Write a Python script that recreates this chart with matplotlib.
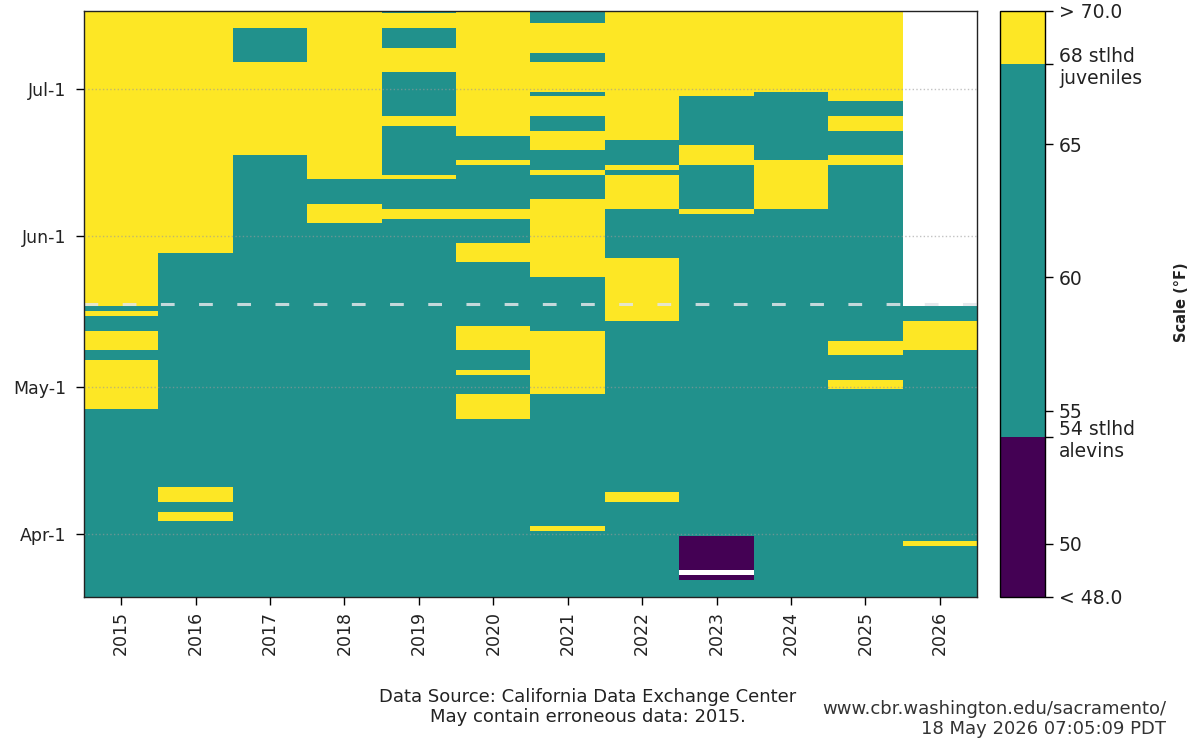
import matplotlib
matplotlib.use('Agg')
import numpy as np
import pandas as pd
import matplotlib.pyplot as plt
from matplotlib.colors import ListedColormap, BoundaryNorm
from matplotlib.cm import ScalarMappable

# season window shown for every year (month-day, plotted by day of year)
years = list(range(2015, 2027))
first_day, last_day = '03-19', '07-17'
today = '05-18'

# daily mean water temperature above 68°F (inclusive month-day ranges)
warm_runs = {
    2015: [('04-27', '05-06'), ('05-09', '05-12'), ('05-16', '05-16'), ('05-18', '07-17')],
    2016: [('04-04', '04-05'), ('04-08', '04-10'), ('05-29', '07-17')],
    2017: [('06-18', '07-06'), ('07-14', '07-17')],
    2018: [('06-04', '06-07'), ('06-13', '07-17')],
    2019: [('06-05', '06-06'), ('06-13', '06-13'), ('06-24', '06-25'),
           ('07-05', '07-09'), ('07-14', '07-16')],
    2020: [('04-25', '04-29'), ('05-04', '05-04'), ('05-09', '05-13'), ('05-27', '05-30'),
           ('06-05', '06-06'), ('06-16', '06-16'), ('06-22', '07-17')],
    2021: [('04-02', '04-02'), ('04-30', '05-12'), ('05-24', '06-08'), ('06-14', '06-14'),
           ('06-19', '06-22'), ('06-26', '06-29'), ('07-01', '07-06'), ('07-09', '07-14')],
    2022: [('04-08', '04-09'), ('05-15', '05-27'), ('06-07', '06-13'), ('06-15', '06-15'),
           ('06-21', '07-17')],
    2023: [('06-06', '06-06'), ('06-16', '06-19'), ('06-30', '07-17')],
    2024: [('06-07', '06-16'), ('07-01', '07-17')],
    2025: [('05-01', '05-02'), ('05-08', '05-10'), ('06-16', '06-17'), ('06-23', '06-25'),
           ('06-29', '07-17')],
    2026: [('03-30', '03-30'), ('05-09', '05-14')],
}
# below 54°F
cold_runs = {
    2023: [('03-23', '03-23'), ('03-25', '03-31')],
}
missing_days = {2023: ['03-24']}
data_end = {2026: '05-17'}

scale_bounds = [48, 54, 68, 70]
scale_ticks = [48, 50, 54, 55, 60, 65, 68, 70]
scale_labels = ['< 48.0', '50', '54 stlhd\nalevins', '55', '60', '65',
                '68 stlhd\njuveniles', '> 70.0']
month_ticks = ['04-01', '05-01', '06-01', '07-01']
month_labels = ['Apr-1', 'May-1', 'Jun-1', 'Jul-1']

colors = ['#440154', '#21918c', '#fde725']


def doy(md):
    return pd.Timestamp(f'2015-{md}').dayofyear


days = np.arange(doy(first_day), doy(last_day) + 1)
grid = np.ones((len(days), len(years)))
for j, yr in enumerate(years):
    for a, b in warm_runs.get(yr, []):
        grid[(days >= doy(a)) & (days <= doy(b)), j] = 2
    for a, b in cold_runs.get(yr, []):
        grid[(days >= doy(a)) & (days <= doy(b)), j] = 0
    for d in missing_days.get(yr, []):
        grid[days == doy(d), j] = np.nan
    if yr in data_end:
        grid[days > doy(data_end[yr]), j] = np.nan
grid = np.ma.masked_invalid(grid)

W, H = 1195, 742
fig = plt.figure(figsize=(W / 100, H / 100), dpi=100)
ax = fig.add_axes([84 / W, 1 - 597 / H, (977 - 84) / W, (597 - 11) / H])

# one cell per day, centred on the day number
x_edges = np.arange(len(years) + 1) + years[0] - 0.5
y_edges = np.append(days, days[-1] + 1) - 0.5
ax.pcolormesh(x_edges, y_edges, grid, cmap=ListedColormap(colors),
              norm=BoundaryNorm([-0.5, 0.5, 1.5, 2.5], 3), shading='flat',
              antialiased=False, edgecolors='none')

ax.set_xlim(x_edges[0], x_edges[-1])
ax.set_ylim(days[0], days[-1])
ax.set_xticks(years)
ax.set_xticklabels([str(y) for y in years], rotation=90, fontsize=12.5, color='#222222')
ax.set_yticks([doy(m) for m in month_ticks])
ax.set_yticklabels(month_labels, fontsize=12.5, color='#222222')
ax.tick_params(axis='x', length=6, width=1, pad=4)
ax.tick_params(axis='y', length=6, width=1, pad=7)
ax.set_axisbelow(False)
ax.yaxis.grid(True, ls=':', color='#9a9a9a', lw=1, alpha=0.6)
ax.axhline(doy(today), color='#e2e6ea', lw=2.2, ls=(0, (4.5, 8)), alpha=0.85)
for s in ax.spines.values():
    s.set_linewidth(1.0)
    s.set_color('#222222')

cax = fig.add_axes([1000 / W, 1 - 597 / H, 45 / W, (597 - 11) / H])
sm = ScalarMappable(norm=BoundaryNorm(scale_bounds, 3), cmap=ListedColormap(colors))
cb = fig.colorbar(sm, cax=cax, spacing='proportional', ticks=scale_ticks)
cb.ax.set_yticklabels(scale_labels, fontsize=13.5, color='#222222')
cb.ax.tick_params(length=6, width=1, pad=4)
cb.outline.set_linewidth(1.0)
fig.text(1181 / W, 1 - 302 / H, 'Scale (°F)', rotation=90, ha='center', va='center',
         fontsize=10.5, fontweight='bold', color='#222222')

fig.text(588 / W, 1 - 707 / H,
         'Data Source: California Data Exchange Center\nMay contain erroneous data: 2015.',
         ha='center', va='center', fontsize=13, color='#222222', linespacing=1.2)
fig.text(1166 / W, 1 - 719 / H,
         'www.cbr.washington.edu/sacramento/\n18 May 2026 07:05:09 PDT',
         ha='right', va='center', fontsize=13, color='#333333', linespacing=1.2)

fig.savefig('out.png', dpi=100)
